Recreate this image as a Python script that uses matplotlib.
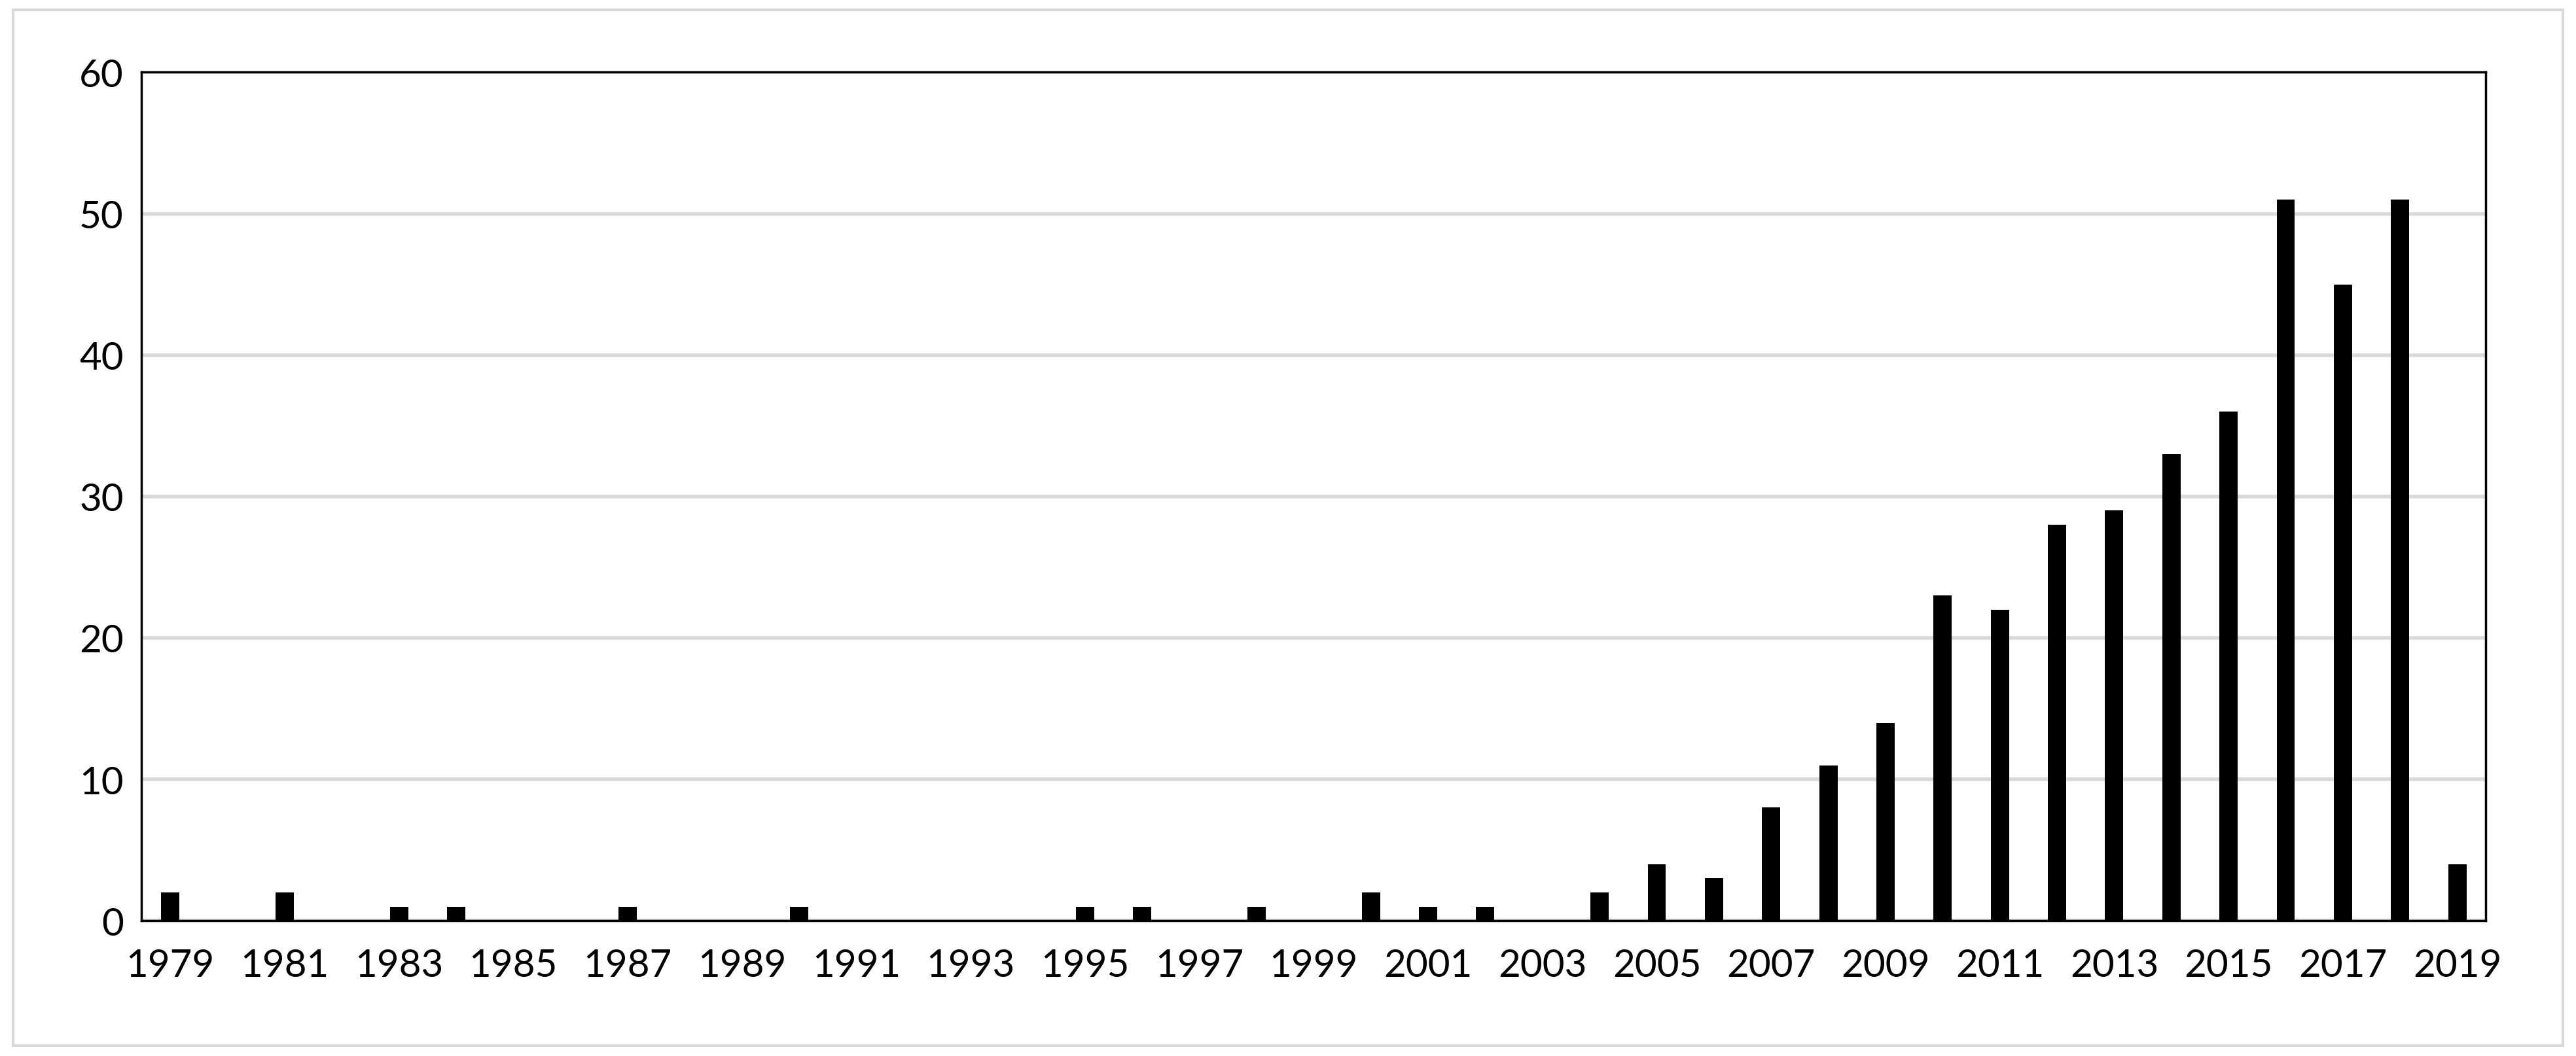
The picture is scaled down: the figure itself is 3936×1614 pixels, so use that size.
import matplotlib
matplotlib.use("Agg")
import matplotlib.pyplot as plt
from matplotlib.patches import Rectangle

years = list(range(1979, 2020))
counts_map = {1979:2, 1981:2, 1983:1, 1984:1, 1987:1, 1990:1, 1995:1, 1996:1, 1998:1,
              2000:2, 2001:1, 2002:1, 2004:2, 2005:4, 2006:3, 2007:8, 2008:11, 2009:14,
              2010:23, 2011:22, 2012:28, 2013:29, 2014:33, 2015:36, 2016:51, 2017:45,
              2018:51, 2019:4}
counts = [counts_map.get(y, 0) for y in years]
tick_years = years[::2]

plt.rcParams['font.family'] = ['Lato', 'DejaVu Sans']
fig = plt.figure(figsize=(39.36, 16.15), dpi=100)
fig.patches.append(Rectangle((0.005, 0.01), 0.99, 0.98, transform=fig.transFigure,
                             fill=False, edgecolor='#d9d9d9', linewidth=3))
ax = fig.add_axes([0.055, 0.128, 0.91, 0.803])
ax.bar(years, counts, width=0.32, color='black', zorder=3)
ax.set_xlim(1978.5, 2019.5)
ax.set_ylim(0, 60)
ax.set_yticks(range(0, 61, 10))
ax.set_xticks(tick_years)
ax.yaxis.grid(True, color='#d9d9d9', linewidth=4, zorder=0)
for s in ax.spines.values():
    s.set_color('black'); s.set_linewidth(2.5)
ax.tick_params(axis='both', length=0, labelsize=42)
ax.tick_params(axis='x', pad=30)
ax.tick_params(axis='y', pad=20)
fig.savefig('out.png', dpi=100)
